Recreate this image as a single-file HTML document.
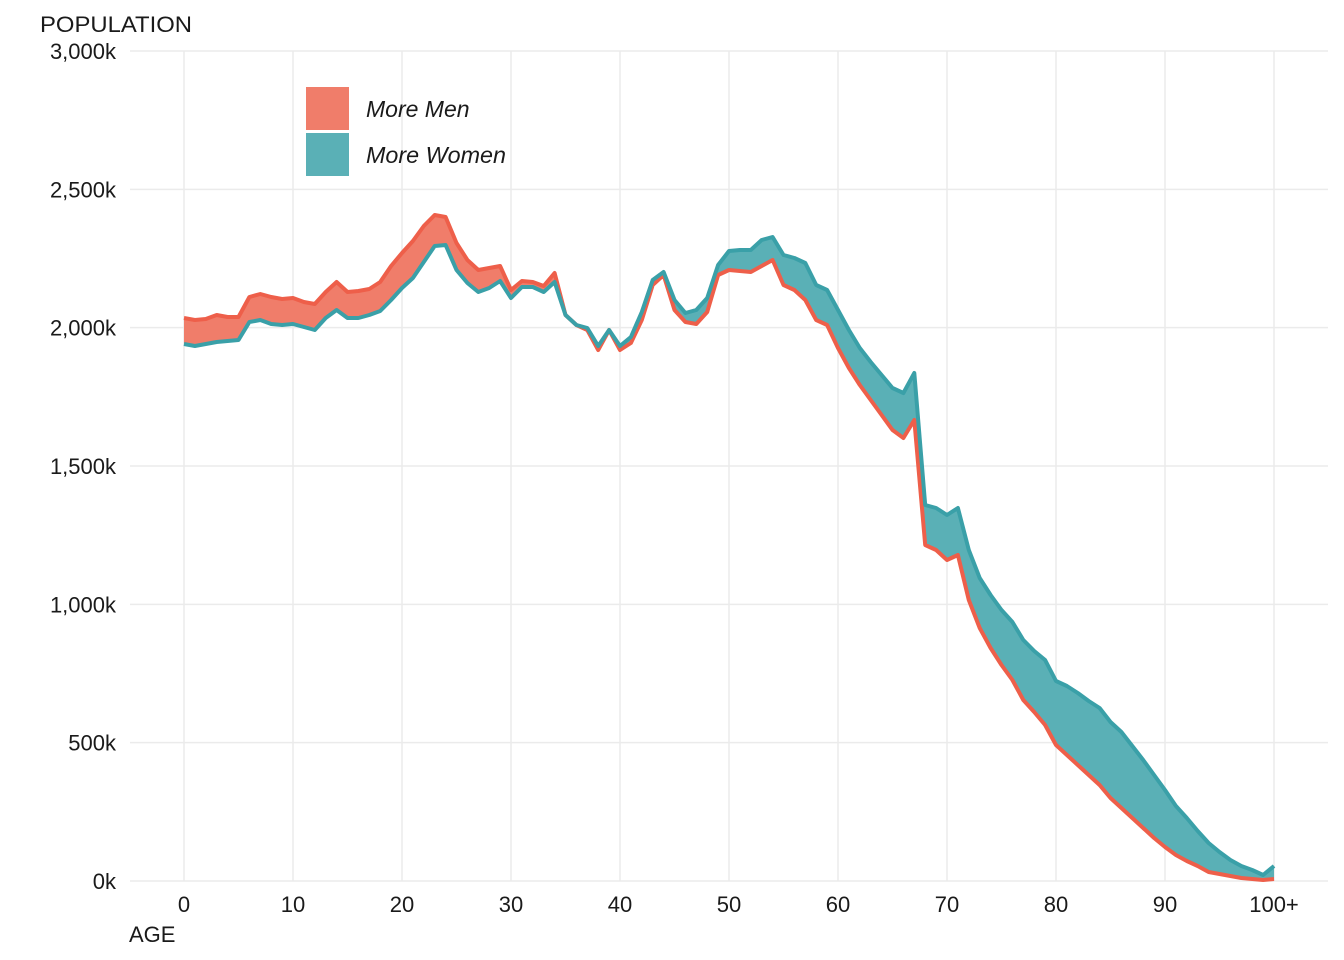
<!DOCTYPE html>
<html><head><style>
body{margin:0;background:#fff;font-family:"Liberation Sans",sans-serif;}
</style></head><body>
<svg id="s" width="1344" height="960" xmlns="http://www.w3.org/2000/svg" style="display:block">
<g id="grid" stroke="#ebebeb" stroke-width="1.5"></g>
<g id="data"></g>
<g font-family="Liberation Sans, sans-serif" font-size="22" fill="#1a1a1a">
<text x="40" y="32" textLength="152" lengthAdjust="spacingAndGlyphs">POPULATION</text>
<text x="129" y="942">AGE</text>
<g id="yl" text-anchor="end"></g>
<g id="xl" text-anchor="middle"></g>
</g>
<rect x="306" y="87" width="43" height="43" fill="#f07d6a"/>
<rect x="306" y="133" width="43" height="43" fill="#5ab0b6"/>
<text x="366" y="117" font-family="Liberation Sans, sans-serif" font-size="23" font-style="italic" fill="#1a1a1a">More Men</text>
<text x="366" y="163" font-family="Liberation Sans, sans-serif" font-size="23" font-style="italic" fill="#1a1a1a" textLength="140" lengthAdjust="spacingAndGlyphs">More Women</text>
</svg>
<script>
var NS="http://www.w3.org/2000/svg";
function el(t,a,p){var e=document.createElementNS(NS,t);for(var k in a)e.setAttribute(k,a[k]);p.appendChild(e);return e;}
var g=document.getElementById('grid');
for(var i=0;i<=10;i++){var x=184+i*109;el('line',{x1:x,x2:x,y1:51,y2:881},g);
var t=el('text',{x:x,y:912},document.getElementById('xl'));t.textContent=i==10?'100+':String(i*10);}
var yl=['0k','500k','1,000k','1,500k','2,000k','2,500k','3,000k'];
for(var j=0;j<=6;j++){var y=881-j*138.33;el('line',{x1:130,x2:1328,y1:y,y2:y},g);
var t=el('text',{x:116,y:y+8},document.getElementById('yl'));t.textContent=yl[j];}
var M=[318,320,319,315,317,317,297,294,297,299,298,302,304,292,282,292,291,289,282,266,253,241,226,215,217,243,260,270,268,266,290,281,282,286,273,315,325,330,350,330,350,343,320,285,275,310,322,324,312,275,270,271,272,266,260,285,290,300,320,325,348,368,385,400,415,430,438,420,545,550,560,555,600,628,648,665,680,700,712,725,745,755,765,775,785,798,808,818,828,838,847,855,861,866,872,874,876,878,879,880,879];
var W=[344,346,344,342,341,340,322,320,324,325,324,327,330,318,310,318,318,315,311,300,288,278,262,246,245,270,283,292,288,281,298,287,287,292,282,315,325,328,346,330,346,337,312,280,272,300,313,310,298,265,251,250,250,240,237,255,258,263,285,290,310,330,348,362,375,388,393,373,505,508,515,508,550,578,595,610,622,640,651,660,681,686,693,701,708,722,732,746,760,775,790,806,818,831,843,852,860,866,870,875,866];
function X(i){return 184+i*10.9;}
function pts(a){return a.map(function(v,i){return X(i)+','+v;});}
var d=document.getElementById('data');
var defs=el('defs',{},d);
var c1=el('clipPath',{id:'cw'},defs);el('polygon',{points:pts(W).join(' ')+' '+X(100)+',0 '+X(0)+',0'},c1);
var c2=el('clipPath',{id:'cm'},defs);el('polygon',{points:pts(M).join(' ')+' '+X(100)+',0 '+X(0)+',0'},c2);
var between=pts(M).concat(pts(W).reverse()).join(' ');
el('polygon',{points:between,fill:'#f07d6a','clip-path':'url(#cw)'},d);
el('polygon',{points:between,fill:'#5ab0b6','clip-path':'url(#cm)'},d);
el('polyline',{points:pts(M).join(' '),fill:'none',stroke:'#ee5f4a','stroke-width':4,'stroke-linejoin':'round'},d);
el('polyline',{points:pts(W).join(' '),fill:'none',stroke:'#3aa0a8','stroke-width':4,'stroke-linejoin':'round'},d);
</script>
</body></html>
